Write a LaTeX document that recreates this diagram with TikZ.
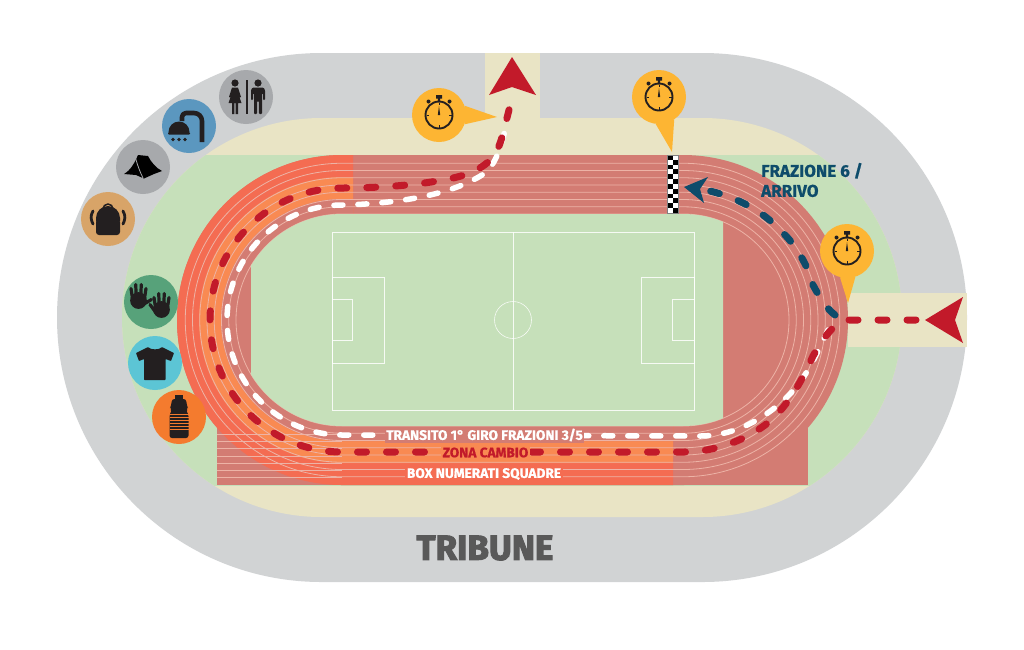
\documentclass[tikz,border=0pt]{standalone}
\usepackage{fontspec}
\setmainfont{Fira Sans}[BoldFeatures={FakeBold=0.8}]
\newfontfamily\tribfont{Fira Sans}[BoldFeatures={FakeBold=3}]
\definecolor{standgray}{HTML}{D1D3D4}
\definecolor{sandy}{HTML}{E9E4C5}
\definecolor{lawn}{HTML}{C6E0BA}
\definecolor{salmon}{HTML}{D37C73}
\definecolor{redlane}{HTML}{F46C52}
\definecolor{orlane}{HTML}{F98A52}
\definecolor{laneline}{HTML}{EDB3A6}
\definecolor{routered}{HTML}{C21A2A}
\definecolor{routeblue}{HTML}{0E4C6B}
\definecolor{pinyellow}{HTML}{FDB533}
\definecolor{inkblack}{HTML}{231F20}
\definecolor{discgray}{HTML}{A7A9AC}
\definecolor{discblue}{HTML}{5B97BF}
\definecolor{disctan}{HTML}{D8A468}
\definecolor{discgreen}{HTML}{57A27A}
\definecolor{disccyan}{HTML}{5CC5D5}
\definecolor{discorange}{HTML}{F47B2E}
\newcommand{\trackoval}[4]{({#1},{#3-#4}) arc[start angle=90,end angle=270,radius=#4pt] -- ({#2},{#3+#4}) arc[start angle=-90,end angle=90,radius=#4pt] -- cycle}
\tikzset{
    disc/.style={circle,inner sep=0pt,minimum size=54pt},
    pin/.style={disc,fill=pinyellow},
    reddash/.style={draw=routered,line width=7pt,line cap=round,dash pattern=on 9pt off 20pt},
    bluedash/.style={draw=routeblue,line width=7pt,line cap=round,dash pattern=on 9pt off 20pt},
    whitedash/.style={draw=white,line width=5.5pt,line cap=round,dash pattern=on 9pt off 15pt},
    lanetext/.style={inner sep=1.5pt,font=\bfseries\fontsize{13.7}{13.7}\selectfont},
    pitch/.style={draw=white,line width=0.6pt,opacity=0.85},
    watch/.pic={
        \draw[inkblack,line width=1.9pt] (0,0) circle[radius=13.5pt];
        \fill[inkblack] (-3,-20) rectangle (3,-16.5) (-1.2,-17) rectangle (1.2,-13);
        \fill[inkblack] (-10.5,-13.5) circle[radius=2pt] (10.5,-13.5) circle[radius=2pt];
        \fill[inkblack] (0,-9) -- (1.2,0) -- (-1.2,0) -- cycle;
        \foreach \tick in {0,90,180,270} \draw[inkblack,line width=0.8pt,rotate=\tick] (0,-12.5) -- (0,-10);
    },
    wcicon/.pic={
        \fill[inkblack] (-11,-14) circle[radius=3.6pt] (12,-14) circle[radius=3.6pt];
        \fill[inkblack] (-14,-9.5) -- (-8,-9.5) -- (-5,0) -- (-6.5,0.5) -- (-8,-4) -- (-4.5,6) -- (-8,6) -- (-8,17) -- (-10.4,17) -- (-10.4,6) -- (-11.6,6) -- (-11.6,17) -- (-14,17) -- (-14,6) -- (-17.5,6) -- (-14,-4) -- (-15.5,0.5) -- (-17,0) -- cycle;
        \fill[inkblack] (-0.3,-17) rectangle (2.3,17);
        \fill[inkblack,rounded corners=1pt] (6.5,-9.5) -- (17.5,-9.5) -- (19,-7) -- (19,3) -- (17,3) -- (17,-4) -- (16,-4) -- (16,17) -- (12.8,17) -- (12.8,4) -- (11.2,4) -- (11.2,17) -- (8,17) -- (8,-4) -- (7,-4) -- (7,3) -- (5,3) -- (5,-7) -- cycle;
    },
    showericon/.pic={
        \draw[inkblack,line width=4.6pt,line join=round] (13,16) -- (13,-5) arc[start angle=0,end angle=90,radius=8pt] -- (-3,-13) arc[start angle=90,end angle=180,radius=4pt] -- (-7,-5);
        \fill[inkblack] (-20.5,6) arc[start angle=180,end angle=0,radius=10.5pt] -- cycle;
        \fill[inkblack,rounded corners=1pt] (-21,6) rectangle (1,8.5);
        \fill[inkblack] (-16,13.5) circle[radius=1.8pt] (-10,13.5) circle[radius=1.8pt] (-4,13.5) circle[radius=1.8pt];
    },
    tenticon/.pic={
        \fill[black] (-19,7) .. controls (-12,3) and (-8,-5) .. (-5,-12) -- (5,-11) .. controls (8,-5) and (13,1) .. (19,4) -- (11,7) -- (1,11.5) -- (-7,8) -- cycle;
        \draw[discgray,line width=0.8pt] (-8,-11) .. controls (-6,-3) and (-3,5) .. (0,11);
    },
    packicon/.pic={
        \draw[inkblack,line width=1.5pt] (-5,-10) arc[start angle=180,end angle=0,radius=5pt];
        \fill[inkblack,rounded corners=3pt] (-12,16) rectangle (12,0);
        \fill[inkblack] (-12,2) -- (-12,-1) arc[start angle=180,end angle=0,radius=12pt] -- (12,2) -- cycle;
        \draw[inkblack,line width=2.8pt,line cap=round] (-15,-8) .. controls (-18,-3) and (-17,1) .. (-15,5);
        \draw[inkblack,line width=2.8pt,line cap=round] (15,-8) .. controls (18,-3) and (17,1) .. (15,5);
    },
    handicon/.pic={
        \fill[inkblack] (0,1) circle[radius=8.4pt];
        \draw[inkblack,line width=3.2pt,line cap=round] (-6,-1) -- (-7.5,-11) (-2.2,-2) -- (-2.8,-15) (2.2,-2) -- (2.8,-15) (6,-1) -- (7.5,-11);
    },
    gloveicon/.pic={
        \pic at (-12.5,-2.5) {handicon};
        \pic at (10.5,6.5) {handicon};
        \draw[inkblack,line width=3.2pt,line cap=round] (-7,2) -- (0.5,-2.5);
        \draw[inkblack,line width=3.2pt,line cap=round] (4.5,10) -- (-1,2.5);
    },
    shirticon/.pic={
        \fill[inkblack,rounded corners=0.6pt] (-7,-16) .. controls (-4,-13) and (4,-13) .. (7,-16) -- (19,-10) -- (16,-2) -- (10.5,-4) -- (10.5,17) -- (-11,17) -- (-11,-4) -- (-16,-2) -- (-19,-10) -- cycle;
    },
    bottleicon/.pic={
        \fill[inkblack] (-4,-22) rectangle (4,-17);
        \fill[inkblack,rounded corners=2.5pt] (-7,-18) -- (7,-18) -- (8,-11) -- (9,-9) -- (7,-5) -- (9.5,-3) -- (9.5,21) -- (-9.5,21) -- (-9.5,-3) -- (-7,-5) -- (-9,-9) -- (-8,-11) -- cycle;
        \foreach \stripe in {-3,0,3,6,9,12} \draw[discorange,line width=0.9pt] (-9.5,\stripe) -- (9.5,\stripe);
    }
}
\begin{document}
\begin{tikzpicture}[x=1pt,y=-1pt]
            \useasboundingbox (0,0) rectangle (1024,649);
            % stands and grass
            \fill[standgray] \trackoval{321.5}{702.5}{317.5}{264.5};
            \fill[sandy] (485,53) rectangle (540,118);
            \fill[sandy] \trackoval{321.5}{702.5}{317.5}{199.5};
            \begin{scope}
                \clip (0,155) rectangle (1024,485);
                \fill[lawn] \trackoval{321.5}{702.5}{317.5}{199.5};
            \end{scope}
            \fill[sandy] (848,293) rectangle (967,347);
            % track
            \fill[salmon] \trackoval{342}{683}{320}{165};
            \fill[salmon] (217,427) rectangle (808,485);
            \begin{scope}
                \clip (0,0) rectangle (353,320) (0,320) rectangle (673,649);
                \fill[redlane] \trackoval{342}{683}{320}{165};
                \fill[orlane] \trackoval{342}{683}{320}{143};
                \fill[salmon] \trackoval{342}{683}{320}{121};
            \end{scope}
            \foreach \lane in {1,...,7} \draw[laneline,line width=0.7pt] (217,427+7.25*\lane) -- (342,427+7.25*\lane);
            \foreach \lane in {0,...,7} {
                \pgfmathsetmacro\rad{106+7.25*\lane}
                \draw[laneline,line width=0.8pt] \trackoval{342}{683}{320}{\rad};
            }
            % pitch
            \begin{scope}
                \clip (251,214) rectangle (723,427);
                \fill[lawn] \trackoval{342}{683}{320}{106};
            \end{scope}
            \draw[pitch] (332,232) rectangle (694,410);
            \draw[pitch] (513,232) -- (513,410);
            \draw[pitch] (513,320) circle[radius=18.5pt];
            \draw[pitch] (332,277) rectangle (384,363) (332,299) rectangle (352,340);
            \draw[pitch] (641,277) rectangle (694,363) (672,299) rectangle (694,340);
            % finish line
            \fill[white] (667,155) rectangle (678,213);
            \foreach \row in {0,...,11} {
                \pgfmathsetmacro\cellx{667+5.5*mod(\row,2)}
                \fill[black] (\cellx,155+4.83*\row) rectangle ++(5.5,4.83);
            }
            \draw[gray,line width=0.5pt] (667,155) rectangle (678,213);
            % routes
            \coordinate (whitestart) at (828,330);
            \coordinate (whiteend) at (511,104);
            \coordinate (redstart) at (916,320);
            \coordinate (redend) at (512,98);
            \coordinate (bluestart) at (835,315);
            \coordinate (blueend) at (700,189);
            \draw[whitedash] (whitestart) .. controls (815,358) and (805,380) .. (786,398) .. controls (765,418) and (735,436) .. (700,436) -- (342,435) arc[start angle=-90,end angle=-270,radius=115pt] -- (346,205) .. controls (400,203) and (450,195) .. (482,175) .. controls (498,165) and (503,140) .. (whiteend);
            \draw[bluedash] (bluestart) .. controls (826,308) and (820,298) .. (813,285) .. controls (808,265) and (795,245) .. (785,235) .. controls (765,212) and (735,195) .. (blueend);
            \draw[reddash] (redstart) -- (848,320) .. controls (835,322) and (825,335) .. (813,356) .. controls (800,385) and (785,410) .. (765,425) .. controls (745,440) and (715,452) .. (684,452) -- (342,452) arc[start angle=-90,end angle=-270,radius=132pt] .. controls (400,188) and (450,181) .. (470,173) .. controls (495,162) and (498,150) .. (503,134) -- (redend);
            \fill[routered] (512,57) -- (536,95) -- (512,87) -- (489,95) -- cycle;
            \fill[routered] (925,320) -- (963,297) -- (955,320) -- (963,343) -- cycle;
            \fill[routeblue] (684,187) -- (708,177) -- (700,189) -- (704,203) -- cycle;
            % labels
            \node (transito) at (484.5,435) [lanetext,fill=salmon,text=white] {TRANSITO 1° GIRO FRAZIONI 3/5};
            \node (cambio) at (485.5,452.5) [lanetext,fill=orlane,text=routered] {ZONA CAMBIO};
            \node (box) at (484,474) [lanetext,fill=redlane,text=white] {BOX NUMERATI SQUADRE};
            \node (tribune) at (485,548) [text=black!65,font=\tribfont\bfseries\fontsize{35}{35}\selectfont] {TRIBUNE};
            \node (arrivo) at (761,180) [anchor=west,align=left,text=routeblue,inner sep=0pt,font=\bfseries\fontsize{17}{20}\selectfont] {FRAZIONE 6 /\\ARRIVO};
            % pins
            \coordinate (tipa) at (497,117);
            \coordinate (tipb) at (672,152);
            \coordinate (tipc) at (848,303);
            \node (pina) at (439,115) [pin] {};
            \node (pinb) at (659,97) [pin] {};
            \node (pinc) at (847,251) [pin] {};
            \fill[pinyellow] (pina.20) -- (tipa) -- (pina.-20) -- cycle;
            \fill[pinyellow] (pinb.-97) -- (tipb) -- (pinb.-56) -- cycle;
            \fill[pinyellow] (pinc.-105) -- (tipc) -- (pinc.-72) -- cycle;
            \pic at (pina) {watch};
            \pic at (pinb) {watch};
            \pic at (pinc) {watch};
            % services
            \node (wc) at (246,97) [disc,fill=discgray] {};
            \node (shower) at (189,126) [disc,fill=discblue] {};
            \node (tent) at (143,167) [disc,fill=discgray] {};
            \node (pack) at (108,219) [disc,fill=disctan] {};
            \node (gloves) at (151,302) [disc,fill=discgreen] {};
            \node (shirt) at (155,363) [disc,fill=disccyan] {};
            \node (bottle) at (179,417) [disc,fill=discorange] {};
            \pic at (wc) {wcicon};
            \pic at (shower) {showericon};
            \pic at (tent) {tenticon};
            \pic at (pack) {packicon};
            \pic at (gloves) {gloveicon};
            \pic at (shirt) {shirticon};
            \pic at (bottle) {bottleicon};
        \end{tikzpicture}
\end{document}
